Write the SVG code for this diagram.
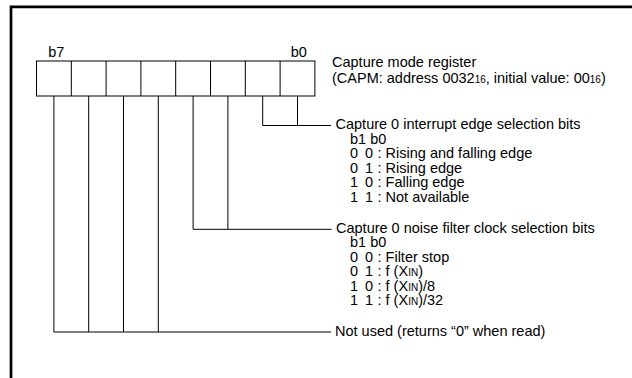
<svg xmlns="http://www.w3.org/2000/svg" width="632" height="378" viewBox="0 0 632 378">
<style>
text{font-family:"Liberation Sans",Arial,sans-serif;font-size:14.5px;fill:#000}
.s{font-size:10px}
.ln{fill:none;stroke:#000;stroke-width:1}
.frame{fill:none;stroke:#000;stroke-width:2.7}
</style>
<rect width="632" height="378" fill="#fff"/>
<path class="frame" d="M11 378V6.8H632"/>
<g id="register">
<rect class="ln" x="36.5" y="61" width="278.4" height="35"/>
<path class="ln" d="M71.3 61V96M106.1 61V96M140.9 61V96M175.7 61V96M210.5 61V96M245.3 61V96M280.1 61V96"/>
<text x="48.3" y="56.7">b7</text>
<text x="290.7" y="56.7">b0</text>
</g>
<g id="title">
<text x="332" y="67">Capture mode register</text>
<text x="332" y="82.5">(CAPM: address 0032<tspan class="s">16</tspan>, initial value: 00<tspan class="s">16</tspan>)</text>
</g>
<g id="connectors">
<path class="ln" d="M297.5 96V125.5M262.7 96V125.5H331"/>
<path class="ln" d="M227.9 96V229.3M193.1 96V229.3H331.5"/>
<path class="ln" d="M158.3 96V332M123.5 96V332M88.7 96V332M53.9 96V332H331"/>
</g>
<g id="field-interrupt-edge">
<text x="335.5" y="129">Capture 0 interrupt edge selection bits</text>
<text x="350" y="143.5">b1 b0</text>
<text x="350" y="158">0</text><text x="365" y="158">0</text><text x="377.5" y="158">: Rising and falling edge</text>
<text x="350" y="172.5">0</text><text x="365" y="172.5">1</text><text x="377.5" y="172.5">: Rising edge</text>
<text x="350" y="187">1</text><text x="365" y="187">0</text><text x="377.5" y="187">: Falling edge</text>
<text x="350" y="201.5">1</text><text x="365" y="201.5">1</text><text x="377.5" y="201.5">: Not available</text>
</g>
<g id="field-noise-filter">
<text x="336" y="232.8">Capture 0 noise filter clock selection bits</text>
<text x="350" y="247.3">b1 b0</text>
<text x="350" y="261.8">0</text><text x="365" y="261.8">0</text><text x="377.5" y="261.8">: Filter stop</text>
<text x="350" y="276.3">0</text><text x="365" y="276.3">1</text><text x="377.5" y="276.3">: f (X<tspan class="s">IN</tspan>)</text>
<text x="350" y="290.8">1</text><text x="365" y="290.8">0</text><text x="377.5" y="290.8">: f (X<tspan class="s">IN</tspan>)/8</text>
<text x="350" y="305.3">1</text><text x="365" y="305.3">1</text><text x="377.5" y="305.3">: f (X<tspan class="s">IN</tspan>)/32</text>
</g>
<g id="field-not-used">
<text x="335" y="336">Not used (returns “0” when read)</text>
</g>
</svg>
